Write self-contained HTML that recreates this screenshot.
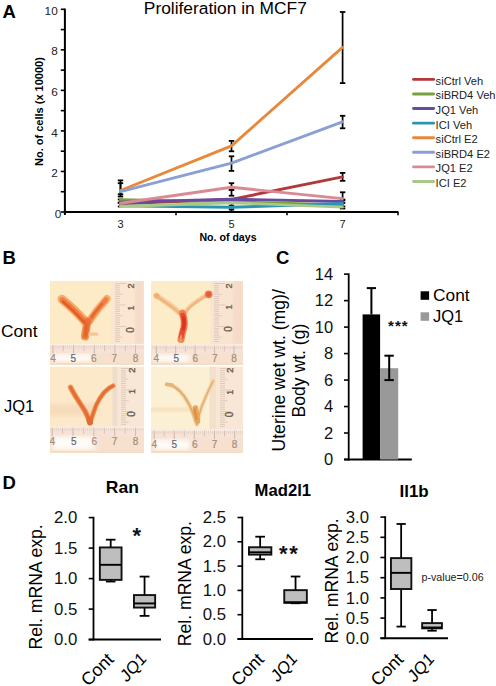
<!DOCTYPE html>
<html><head><meta charset="utf-8"><title>Figure</title>
<style>
html,body{margin:0;padding:0;background:#fff;}
body{width:496px;height:686px;overflow:hidden;}
svg{display:block;font-family:"Liberation Sans", sans-serif;}
</style></head><body>
<svg width="496" height="686" viewBox="0 0 496 686">
<rect width="496" height="686" fill="#fff"/>
<text x="2.6" y="17.8" font-size="18.5" font-weight="bold" text-anchor="start" fill="#000" >A</text>
<text transform="translate(143.8,13.8) scale(1.022,1)" font-size="17" font-weight="normal" text-anchor="start" fill="#000" >Proliferation in MCF7</text>
<line x1="64.9" y1="8.6" x2="64.9" y2="215" stroke="#000" stroke-width="2" stroke-linecap="butt"/>
<line x1="60.8" y1="212.0" x2="64.9" y2="212.0" stroke="#000" stroke-width="1.6" stroke-linecap="butt"/>
<line x1="60.8" y1="191.73" x2="64.9" y2="191.73" stroke="#000" stroke-width="1.6" stroke-linecap="butt"/>
<line x1="60.8" y1="171.46" x2="64.9" y2="171.46" stroke="#000" stroke-width="1.6" stroke-linecap="butt"/>
<line x1="60.8" y1="151.19" x2="64.9" y2="151.19" stroke="#000" stroke-width="1.6" stroke-linecap="butt"/>
<line x1="60.8" y1="130.92000000000002" x2="64.9" y2="130.92000000000002" stroke="#000" stroke-width="1.6" stroke-linecap="butt"/>
<line x1="60.8" y1="110.65" x2="64.9" y2="110.65" stroke="#000" stroke-width="1.6" stroke-linecap="butt"/>
<line x1="60.8" y1="90.38" x2="64.9" y2="90.38" stroke="#000" stroke-width="1.6" stroke-linecap="butt"/>
<line x1="60.8" y1="70.11000000000001" x2="64.9" y2="70.11000000000001" stroke="#000" stroke-width="1.6" stroke-linecap="butt"/>
<line x1="60.8" y1="49.84" x2="64.9" y2="49.84" stroke="#000" stroke-width="1.6" stroke-linecap="butt"/>
<line x1="60.8" y1="29.569999999999993" x2="64.9" y2="29.569999999999993" stroke="#000" stroke-width="1.6" stroke-linecap="butt"/>
<line x1="60.8" y1="9.300000000000011" x2="64.9" y2="9.300000000000011" stroke="#000" stroke-width="1.6" stroke-linecap="butt"/>
<text transform="translate(61.2,217.6) scale(1.07,1)" font-size="11" font-weight="normal" text-anchor="end" fill="#222" >0</text>
<text transform="translate(57.7,177.06) scale(1.07,1)" font-size="11" font-weight="normal" text-anchor="end" fill="#222" >2</text>
<text transform="translate(57.7,136.52) scale(1.07,1)" font-size="11" font-weight="normal" text-anchor="end" fill="#222" >4</text>
<text transform="translate(57.7,95.97999999999999) scale(1.07,1)" font-size="11" font-weight="normal" text-anchor="end" fill="#222" >6</text>
<text transform="translate(57.7,55.440000000000005) scale(1.07,1)" font-size="11" font-weight="normal" text-anchor="end" fill="#222" >8</text>
<text transform="translate(57.7,14.900000000000011) scale(1.07,1)" font-size="11" font-weight="normal" text-anchor="end" fill="#222" >10</text>
<line x1="63.9" y1="212" x2="398.4" y2="212" stroke="#000" stroke-width="2.2" stroke-linecap="butt"/>
<line x1="176" y1="212" x2="176" y2="215.2" stroke="#000" stroke-width="1.6" stroke-linecap="butt"/>
<line x1="287" y1="212" x2="287" y2="215.2" stroke="#000" stroke-width="1.6" stroke-linecap="butt"/>
<line x1="398" y1="212" x2="398" y2="215.2" stroke="#000" stroke-width="1.6" stroke-linecap="butt"/>
<text x="120.5" y="228.4" font-size="11" font-weight="normal" text-anchor="middle" fill="#222" >3</text>
<text x="231.5" y="228.4" font-size="11" font-weight="normal" text-anchor="middle" fill="#222" >5</text>
<text x="342.5" y="228.4" font-size="11" font-weight="normal" text-anchor="middle" fill="#222" >7</text>
<text x="228" y="240.8" font-size="10.6" font-weight="bold" text-anchor="middle" fill="#000" >No. of days</text>
<text transform="translate(42.9,166) rotate(-90)" x="0" y="0" font-size="11" font-weight="bold">No. of cells (x 10000)</text>
<line x1="342.6" y1="12" x2="342.6" y2="83.1" stroke="#000" stroke-width="1.7" stroke-linecap="butt"/>
<line x1="339.90000000000003" y1="12" x2="345.3" y2="12" stroke="#000" stroke-width="1.8" stroke-linecap="butt"/>
<line x1="339.90000000000003" y1="83.1" x2="345.3" y2="83.1" stroke="#000" stroke-width="1.8" stroke-linecap="butt"/>
<line x1="342.6" y1="115.8" x2="342.6" y2="128.3" stroke="#000" stroke-width="1.7" stroke-linecap="butt"/>
<line x1="339.90000000000003" y1="115.8" x2="345.3" y2="115.8" stroke="#000" stroke-width="1.8" stroke-linecap="butt"/>
<line x1="339.90000000000003" y1="128.3" x2="345.3" y2="128.3" stroke="#000" stroke-width="1.8" stroke-linecap="butt"/>
<line x1="342.6" y1="172.9" x2="342.6" y2="180.8" stroke="#000" stroke-width="1.7" stroke-linecap="butt"/>
<line x1="339.90000000000003" y1="172.9" x2="345.3" y2="172.9" stroke="#000" stroke-width="1.8" stroke-linecap="butt"/>
<line x1="339.90000000000003" y1="180.8" x2="345.3" y2="180.8" stroke="#000" stroke-width="1.8" stroke-linecap="butt"/>
<line x1="342.6" y1="192.3" x2="342.6" y2="199.5" stroke="#000" stroke-width="1.7" stroke-linecap="butt"/>
<line x1="339.90000000000003" y1="192.3" x2="345.3" y2="192.3" stroke="#000" stroke-width="1.8" stroke-linecap="butt"/>
<line x1="339.90000000000003" y1="199.5" x2="345.3" y2="199.5" stroke="#000" stroke-width="1.8" stroke-linecap="butt"/>
<line x1="342.6" y1="200.5" x2="342.6" y2="206.4" stroke="#000" stroke-width="1.7" stroke-linecap="butt"/>
<line x1="339.90000000000003" y1="200.5" x2="345.3" y2="200.5" stroke="#000" stroke-width="1.8" stroke-linecap="butt"/>
<line x1="339.90000000000003" y1="206.4" x2="345.3" y2="206.4" stroke="#000" stroke-width="1.8" stroke-linecap="butt"/>
<line x1="342.6" y1="203" x2="342.6" y2="208.5" stroke="#000" stroke-width="1.7" stroke-linecap="butt"/>
<line x1="339.90000000000003" y1="203" x2="345.3" y2="203" stroke="#000" stroke-width="1.8" stroke-linecap="butt"/>
<line x1="339.90000000000003" y1="208.5" x2="345.3" y2="208.5" stroke="#000" stroke-width="1.8" stroke-linecap="butt"/>
<line x1="231.5" y1="140.9" x2="231.5" y2="151.3" stroke="#000" stroke-width="1.7" stroke-linecap="butt"/>
<line x1="228.8" y1="140.9" x2="234.2" y2="140.9" stroke="#000" stroke-width="1.8" stroke-linecap="butt"/>
<line x1="228.8" y1="151.3" x2="234.2" y2="151.3" stroke="#000" stroke-width="1.8" stroke-linecap="butt"/>
<line x1="231.5" y1="156.3" x2="231.5" y2="170.9" stroke="#000" stroke-width="1.7" stroke-linecap="butt"/>
<line x1="228.8" y1="156.3" x2="234.2" y2="156.3" stroke="#000" stroke-width="1.8" stroke-linecap="butt"/>
<line x1="228.8" y1="170.9" x2="234.2" y2="170.9" stroke="#000" stroke-width="1.8" stroke-linecap="butt"/>
<line x1="231.5" y1="183.2" x2="231.5" y2="190" stroke="#000" stroke-width="1.7" stroke-linecap="butt"/>
<line x1="228.8" y1="183.2" x2="234.2" y2="183.2" stroke="#000" stroke-width="1.8" stroke-linecap="butt"/>
<line x1="228.8" y1="190" x2="234.2" y2="190" stroke="#000" stroke-width="1.8" stroke-linecap="butt"/>
<line x1="231.5" y1="189.5" x2="231.5" y2="195.7" stroke="#000" stroke-width="1.7" stroke-linecap="butt"/>
<line x1="228.8" y1="189.5" x2="234.2" y2="189.5" stroke="#000" stroke-width="1.8" stroke-linecap="butt"/>
<line x1="228.8" y1="195.7" x2="234.2" y2="195.7" stroke="#000" stroke-width="1.8" stroke-linecap="butt"/>
<line x1="231.5" y1="203.4" x2="231.5" y2="205.8" stroke="#000" stroke-width="1.7" stroke-linecap="butt"/>
<line x1="228.8" y1="203.4" x2="234.2" y2="203.4" stroke="#000" stroke-width="1.8" stroke-linecap="butt"/>
<line x1="228.8" y1="205.8" x2="234.2" y2="205.8" stroke="#000" stroke-width="1.8" stroke-linecap="butt"/>
<line x1="231.5" y1="209.3" x2="231.5" y2="211.5" stroke="#000" stroke-width="1.7" stroke-linecap="butt"/>
<line x1="228.8" y1="209.3" x2="234.2" y2="209.3" stroke="#000" stroke-width="1.8" stroke-linecap="butt"/>
<line x1="228.8" y1="211.5" x2="234.2" y2="211.5" stroke="#000" stroke-width="1.8" stroke-linecap="butt"/>
<line x1="120.5" y1="180.4" x2="120.5" y2="196.5" stroke="#000" stroke-width="1.7" stroke-linecap="butt"/>
<line x1="117.8" y1="180.4" x2="123.2" y2="180.4" stroke="#000" stroke-width="1.8" stroke-linecap="butt"/>
<line x1="117.8" y1="196.5" x2="123.2" y2="196.5" stroke="#000" stroke-width="1.8" stroke-linecap="butt"/>
<line x1="120.5" y1="183.2" x2="120.5" y2="194.3" stroke="#000" stroke-width="1.7" stroke-linecap="butt"/>
<line x1="117.8" y1="183.2" x2="123.2" y2="183.2" stroke="#000" stroke-width="1.8" stroke-linecap="butt"/>
<line x1="117.8" y1="194.3" x2="123.2" y2="194.3" stroke="#000" stroke-width="1.8" stroke-linecap="butt"/>
<line x1="120.5" y1="199.5" x2="120.5" y2="202.5" stroke="#000" stroke-width="1.7" stroke-linecap="butt"/>
<line x1="117.8" y1="199.5" x2="123.2" y2="199.5" stroke="#000" stroke-width="1.8" stroke-linecap="butt"/>
<line x1="117.8" y1="202.5" x2="123.2" y2="202.5" stroke="#000" stroke-width="1.8" stroke-linecap="butt"/>
<line x1="120.5" y1="203" x2="120.5" y2="206.5" stroke="#000" stroke-width="1.7" stroke-linecap="butt"/>
<line x1="117.8" y1="203" x2="123.2" y2="203" stroke="#000" stroke-width="1.8" stroke-linecap="butt"/>
<line x1="117.8" y1="206.5" x2="123.2" y2="206.5" stroke="#000" stroke-width="1.8" stroke-linecap="butt"/>
<polyline points="120.5,203.7 231.5,199.4 342.5,176.9" fill="none" stroke="#B3383A" stroke-width="2.9" stroke-linejoin="round" stroke-linecap="round"/>
<polyline points="120.5,199.8 231.5,201.9 342.5,204.9" fill="none" stroke="#7AA23C" stroke-width="2.9" stroke-linejoin="round" stroke-linecap="round"/>
<polyline points="120.5,202.1 231.5,199.2 342.5,201.5" fill="none" stroke="#6A4A9E" stroke-width="2.9" stroke-linejoin="round" stroke-linecap="round"/>
<polyline points="120.5,205.9 231.5,207.3 342.5,203.5" fill="none" stroke="#2B93B3" stroke-width="2.9" stroke-linejoin="round" stroke-linecap="round"/>
<polyline points="120.5,190.5 231.5,145.9 342.5,47.4" fill="none" stroke="#E8883A" stroke-width="2.9" stroke-linejoin="round" stroke-linecap="round"/>
<polyline points="120.5,191.7 231.5,163.1 342.5,121.8" fill="none" stroke="#8AA0D4" stroke-width="2.9" stroke-linejoin="round" stroke-linecap="round"/>
<polyline points="120.5,203.3 231.5,187.3 342.5,198.6" fill="none" stroke="#D98A92" stroke-width="2.9" stroke-linejoin="round" stroke-linecap="round"/>
<polyline points="120.5,206.5 231.5,202.7 342.5,207.1" fill="none" stroke="#A9C98A" stroke-width="2.9" stroke-linejoin="round" stroke-linecap="round"/>
<line x1="413.5" y1="79.4" x2="433.6" y2="79.4" stroke="#B3383A" stroke-width="2.9" stroke-linecap="round"/>
<text transform="translate(435.6,84.80000000000001) scale(1.05,1)" font-size="10.6" font-weight="normal" text-anchor="start" fill="#222" >siCtrl Veh</text>
<line x1="413.5" y1="93.98" x2="433.6" y2="93.98" stroke="#7AA23C" stroke-width="2.9" stroke-linecap="round"/>
<text transform="translate(435.6,99.38000000000001) scale(1.05,1)" font-size="10.6" font-weight="normal" text-anchor="start" fill="#222" >siBRD4 Veh</text>
<line x1="413.5" y1="108.56" x2="433.6" y2="108.56" stroke="#6A4A9E" stroke-width="2.9" stroke-linecap="round"/>
<text transform="translate(435.6,113.96000000000001) scale(1.05,1)" font-size="10.6" font-weight="normal" text-anchor="start" fill="#222" >JQ1 Veh</text>
<line x1="413.5" y1="123.14000000000001" x2="433.6" y2="123.14000000000001" stroke="#2B93B3" stroke-width="2.9" stroke-linecap="round"/>
<text transform="translate(435.6,128.54000000000002) scale(1.05,1)" font-size="10.6" font-weight="normal" text-anchor="start" fill="#222" >ICI Veh</text>
<line x1="413.5" y1="137.72" x2="433.6" y2="137.72" stroke="#E8883A" stroke-width="2.9" stroke-linecap="round"/>
<text transform="translate(435.6,143.12) scale(1.05,1)" font-size="10.6" font-weight="normal" text-anchor="start" fill="#222" >siCtrl E2</text>
<line x1="413.5" y1="152.3" x2="433.6" y2="152.3" stroke="#8AA0D4" stroke-width="2.9" stroke-linecap="round"/>
<text transform="translate(435.6,157.70000000000002) scale(1.05,1)" font-size="10.6" font-weight="normal" text-anchor="start" fill="#222" >siBRD4 E2</text>
<line x1="413.5" y1="166.88" x2="433.6" y2="166.88" stroke="#D98A92" stroke-width="2.9" stroke-linecap="round"/>
<text transform="translate(435.6,172.28) scale(1.05,1)" font-size="10.6" font-weight="normal" text-anchor="start" fill="#222" >JQ1 E2</text>
<line x1="413.5" y1="181.46" x2="433.6" y2="181.46" stroke="#A9C98A" stroke-width="2.9" stroke-linecap="round"/>
<text transform="translate(435.6,186.86) scale(1.05,1)" font-size="10.6" font-weight="normal" text-anchor="start" fill="#222" >ICI E2</text>
<text x="2.6" y="263.5" font-size="18.5" font-weight="bold" text-anchor="start" fill="#000" >B</text>
<text x="0.9" y="337.4" font-size="17.4" font-weight="normal" text-anchor="start" fill="#000" >Cont</text>
<text transform="translate(4.0,411.6) scale(0.95,1)" font-size="17.4" font-weight="normal" text-anchor="start" fill="#000" >JQ1</text>
<defs><filter id="bl" x="-30%" y="-30%" width="160%" height="160%"><feGaussianBlur stdDeviation="0.75"/></filter><filter id="bl1" x="-30%" y="-30%" width="160%" height="160%"><feGaussianBlur stdDeviation="0.45"/></filter><filter id="bl2" x="-20%" y="-20%" width="140%" height="140%"><feGaussianBlur stdDeviation="1.2"/></filter><filter id="bl3" x="-10%" y="-10%" width="120%" height="120%"><feGaussianBlur stdDeviation="2.5"/></filter><clipPath id="c1"><rect x="50" y="281" width="94" height="84"/></clipPath><clipPath id="c2"><rect x="151" y="281" width="92" height="84"/></clipPath><clipPath id="c3"><rect x="50" y="366.5" width="94" height="86.5"/></clipPath><clipPath id="c4"><rect x="151" y="366.5" width="92" height="86.5"/></clipPath></defs>
<g clip-path="url(#c1)">
<rect x="50" y="281" width="94" height="84" fill="#FDEAC6"/>
<rect x="111.5" y="281" width="32.5" height="63" fill="#FAE6D2"/>
<line x1="115.0" y1="283.5" x2="126.0" y2="283.5" stroke="#D2BEB0" stroke-width="0.7"/>
<line x1="115.0" y1="285.6" x2="120.0" y2="285.6" stroke="#D2BEB0" stroke-width="0.7"/>
<line x1="115.0" y1="287.8" x2="120.0" y2="287.8" stroke="#D2BEB0" stroke-width="0.7"/>
<line x1="115.0" y1="289.9" x2="120.0" y2="289.9" stroke="#D2BEB0" stroke-width="0.7"/>
<line x1="115.0" y1="292.1" x2="120.0" y2="292.1" stroke="#D2BEB0" stroke-width="0.7"/>
<line x1="115.0" y1="294.2" x2="122.5" y2="294.2" stroke="#D2BEB0" stroke-width="0.7"/>
<line x1="115.0" y1="296.4" x2="120.0" y2="296.4" stroke="#D2BEB0" stroke-width="0.7"/>
<line x1="115.0" y1="298.5" x2="120.0" y2="298.5" stroke="#D2BEB0" stroke-width="0.7"/>
<line x1="115.0" y1="300.7" x2="120.0" y2="300.7" stroke="#D2BEB0" stroke-width="0.7"/>
<line x1="115.0" y1="302.8" x2="120.0" y2="302.8" stroke="#D2BEB0" stroke-width="0.7"/>
<line x1="115.0" y1="305.0" x2="126.0" y2="305.0" stroke="#D2BEB0" stroke-width="0.7"/>
<line x1="115.0" y1="307.1" x2="120.0" y2="307.1" stroke="#D2BEB0" stroke-width="0.7"/>
<line x1="115.0" y1="309.3" x2="120.0" y2="309.3" stroke="#D2BEB0" stroke-width="0.7"/>
<line x1="115.0" y1="311.4" x2="120.0" y2="311.4" stroke="#D2BEB0" stroke-width="0.7"/>
<line x1="115.0" y1="313.6" x2="120.0" y2="313.6" stroke="#D2BEB0" stroke-width="0.7"/>
<line x1="115.0" y1="315.7" x2="122.5" y2="315.7" stroke="#D2BEB0" stroke-width="0.7"/>
<line x1="115.0" y1="317.9" x2="120.0" y2="317.9" stroke="#D2BEB0" stroke-width="0.7"/>
<line x1="115.0" y1="320.0" x2="120.0" y2="320.0" stroke="#D2BEB0" stroke-width="0.7"/>
<line x1="115.0" y1="322.2" x2="120.0" y2="322.2" stroke="#D2BEB0" stroke-width="0.7"/>
<line x1="115.0" y1="324.3" x2="120.0" y2="324.3" stroke="#D2BEB0" stroke-width="0.7"/>
<line x1="115.0" y1="326.5" x2="126.0" y2="326.5" stroke="#D2BEB0" stroke-width="0.7"/>
<line x1="115.0" y1="328.6" x2="120.0" y2="328.6" stroke="#D2BEB0" stroke-width="0.7"/>
<line x1="115.0" y1="330.8" x2="120.0" y2="330.8" stroke="#D2BEB0" stroke-width="0.7"/>
<line x1="115.0" y1="332.9" x2="120.0" y2="332.9" stroke="#D2BEB0" stroke-width="0.7"/>
<line x1="115.0" y1="335.1" x2="120.0" y2="335.1" stroke="#D2BEB0" stroke-width="0.7"/>
<line x1="115.0" y1="337.2" x2="122.5" y2="337.2" stroke="#D2BEB0" stroke-width="0.7"/>
<line x1="115.0" y1="339.4" x2="120.0" y2="339.4" stroke="#D2BEB0" stroke-width="0.7"/>
<line x1="115.0" y1="341.5" x2="120.0" y2="341.5" stroke="#D2BEB0" stroke-width="0.7"/>
<text transform="translate(133.9,286) rotate(-90)" font-size="9" text-anchor="middle" fill="#6A5A4A" stroke="#6A5A4A" stroke-width="0.35">2</text>
<text transform="translate(133.9,307.9) rotate(-90)" font-size="9" text-anchor="middle" fill="#6A5A4A" stroke="#6A5A4A" stroke-width="0.35">1</text>
<text transform="translate(133.9,330) rotate(-90)" font-size="10" text-anchor="middle" fill="#6A5A4A" stroke="#6A5A4A" stroke-width="0.35">0</text>
<rect x="135" y="281" width="9" height="63" fill="#F6DCC8" filter="url(#bl2)"/>
<rect x="50" y="344" width="94" height="21" fill="#F7E0CE"/>
<rect x="50" y="344" width="94" height="9" fill="#F6E2D6"/>
<rect x="50" y="344" width="94" height="1.6" fill="#FBF1EA"/>
<rect x="53" y="354" width="39" height="8" fill="#FFFCF8" filter="url(#bl3)"/>
<rect x="50" y="362.8" width="94" height="2.2" fill="#F6DEC6"/>
<line x1="50.9" y1="345" x2="50.9" y2="348.5" stroke="#DDCABE" stroke-width="0.6"/>
<line x1="53.0" y1="345" x2="53.0" y2="353.5" stroke="#C4AC9C" stroke-width="0.8"/>
<line x1="55.1" y1="345" x2="55.1" y2="348.5" stroke="#DDCABE" stroke-width="0.6"/>
<line x1="57.1" y1="345" x2="57.1" y2="348.5" stroke="#DDCABE" stroke-width="0.6"/>
<line x1="59.2" y1="345" x2="59.2" y2="348.5" stroke="#DDCABE" stroke-width="0.6"/>
<line x1="61.3" y1="345" x2="61.3" y2="348.5" stroke="#DDCABE" stroke-width="0.6"/>
<line x1="63.3" y1="345" x2="63.3" y2="351" stroke="#CDB6A8" stroke-width="0.75"/>
<line x1="65.4" y1="345" x2="65.4" y2="348.5" stroke="#DDCABE" stroke-width="0.6"/>
<line x1="67.5" y1="345" x2="67.5" y2="348.5" stroke="#DDCABE" stroke-width="0.6"/>
<line x1="69.5" y1="345" x2="69.5" y2="348.5" stroke="#DDCABE" stroke-width="0.6"/>
<line x1="71.6" y1="345" x2="71.6" y2="348.5" stroke="#DDCABE" stroke-width="0.6"/>
<line x1="73.6" y1="345" x2="73.6" y2="353.5" stroke="#C4AC9C" stroke-width="0.8"/>
<line x1="75.7" y1="345" x2="75.7" y2="348.5" stroke="#DDCABE" stroke-width="0.6"/>
<line x1="77.8" y1="345" x2="77.8" y2="348.5" stroke="#DDCABE" stroke-width="0.6"/>
<line x1="79.8" y1="345" x2="79.8" y2="348.5" stroke="#DDCABE" stroke-width="0.6"/>
<line x1="81.9" y1="345" x2="81.9" y2="348.5" stroke="#DDCABE" stroke-width="0.6"/>
<line x1="84.0" y1="345" x2="84.0" y2="351" stroke="#CDB6A8" stroke-width="0.75"/>
<line x1="86.0" y1="345" x2="86.0" y2="348.5" stroke="#DDCABE" stroke-width="0.6"/>
<line x1="88.1" y1="345" x2="88.1" y2="348.5" stroke="#DDCABE" stroke-width="0.6"/>
<line x1="90.2" y1="345" x2="90.2" y2="348.5" stroke="#DDCABE" stroke-width="0.6"/>
<line x1="92.2" y1="345" x2="92.2" y2="348.5" stroke="#DDCABE" stroke-width="0.6"/>
<line x1="94.3" y1="345" x2="94.3" y2="353.5" stroke="#C4AC9C" stroke-width="0.8"/>
<line x1="96.4" y1="345" x2="96.4" y2="348.5" stroke="#DDCABE" stroke-width="0.6"/>
<line x1="98.4" y1="345" x2="98.4" y2="348.5" stroke="#DDCABE" stroke-width="0.6"/>
<line x1="100.5" y1="345" x2="100.5" y2="348.5" stroke="#DDCABE" stroke-width="0.6"/>
<line x1="102.6" y1="345" x2="102.6" y2="348.5" stroke="#DDCABE" stroke-width="0.6"/>
<line x1="104.6" y1="345" x2="104.6" y2="351" stroke="#CDB6A8" stroke-width="0.75"/>
<line x1="106.7" y1="345" x2="106.7" y2="348.5" stroke="#DDCABE" stroke-width="0.6"/>
<line x1="108.8" y1="345" x2="108.8" y2="348.5" stroke="#DDCABE" stroke-width="0.6"/>
<line x1="110.8" y1="345" x2="110.8" y2="348.5" stroke="#DDCABE" stroke-width="0.6"/>
<line x1="112.9" y1="345" x2="112.9" y2="348.5" stroke="#DDCABE" stroke-width="0.6"/>
<line x1="114.9" y1="345" x2="114.9" y2="353.5" stroke="#C4AC9C" stroke-width="0.8"/>
<line x1="117.0" y1="345" x2="117.0" y2="348.5" stroke="#DDCABE" stroke-width="0.6"/>
<line x1="119.1" y1="345" x2="119.1" y2="348.5" stroke="#DDCABE" stroke-width="0.6"/>
<line x1="121.1" y1="345" x2="121.1" y2="348.5" stroke="#DDCABE" stroke-width="0.6"/>
<line x1="123.2" y1="345" x2="123.2" y2="348.5" stroke="#DDCABE" stroke-width="0.6"/>
<line x1="125.3" y1="345" x2="125.3" y2="351" stroke="#CDB6A8" stroke-width="0.75"/>
<line x1="127.3" y1="345" x2="127.3" y2="348.5" stroke="#DDCABE" stroke-width="0.6"/>
<line x1="129.4" y1="345" x2="129.4" y2="348.5" stroke="#DDCABE" stroke-width="0.6"/>
<line x1="131.5" y1="345" x2="131.5" y2="348.5" stroke="#DDCABE" stroke-width="0.6"/>
<line x1="133.5" y1="345" x2="133.5" y2="348.5" stroke="#DDCABE" stroke-width="0.6"/>
<line x1="135.6" y1="345" x2="135.6" y2="353.5" stroke="#C4AC9C" stroke-width="0.8"/>
<line x1="137.7" y1="345" x2="137.7" y2="348.5" stroke="#DDCABE" stroke-width="0.6"/>
<line x1="139.7" y1="345" x2="139.7" y2="348.5" stroke="#DDCABE" stroke-width="0.6"/>
<line x1="141.8" y1="345" x2="141.8" y2="348.5" stroke="#DDCABE" stroke-width="0.6"/>
<line x1="143.9" y1="345" x2="143.9" y2="348.5" stroke="#DDCABE" stroke-width="0.6"/>
<text x="53" y="362.2" font-size="10" text-anchor="middle" fill="#A08C7E" stroke="#A08C7E" stroke-width="0.2">4</text>
<text x="73.2" y="362.2" font-size="10" text-anchor="middle" fill="#5E6680" stroke="#5E6680" stroke-width="0.2">5</text>
<text x="93.9" y="362.2" font-size="10" text-anchor="middle" fill="#A08C7E" stroke="#A08C7E" stroke-width="0.2">6</text>
<text x="114.3" y="362.2" font-size="10" text-anchor="middle" fill="#A08C7E" stroke="#A08C7E" stroke-width="0.2">7</text>
<text x="135.6" y="362.2" font-size="10" text-anchor="middle" fill="#A08C7E" stroke="#A08C7E" stroke-width="0.2">8</text>
<g filter="url(#bl)" stroke-linecap="round" stroke-linejoin="round" fill="none">
<path d="M62 299.2 C69 305 78 313 86.5 323" stroke="#F6AE6C" stroke-width="9"/>
<path d="M106.8 298.8 C101 305 95 312 88.8 322" stroke="#F6AE6C" stroke-width="7.6"/>
<path d="M87.5 321 C86.5 327 85.5 332 85 336.5" stroke="#F39A5A" stroke-width="8.2"/>
<path d="M88 334 L96.8 334.2" stroke="#F8C494" stroke-width="3.2"/>
<path d="M62.5 300 C69 305.5 77.5 313 86 323" stroke="#EE8046" stroke-width="5.6"/>
<path d="M106 299.5 C100.5 306 94.5 312.5 89 322" stroke="#EE7E44" stroke-width="4.6"/>
<path d="M87.5 321 C86.5 327 85.8 332 85.3 336" stroke="#EA6E34" stroke-width="5.6"/>
<path d="M63 301.6 C69 306.5 76.5 313.5 84.5 322.5" stroke="#E45E28" stroke-width="2.8"/>
<path d="M102 304 C98.5 308 95 312 91.5 317" stroke="#E86630" stroke-width="2.2"/>
<path d="M86.5 325 L85.6 334.5" stroke="#E4642A" stroke-width="2.4"/>
</g></g>
<g clip-path="url(#c2)">
<rect x="151" y="281" width="92" height="84" fill="#FDECC8"/>
<rect x="210.5" y="281" width="32.5" height="63.5" fill="#F9E4D2"/>
<line x1="214.0" y1="283.5" x2="225.0" y2="283.5" stroke="#D2BEB0" stroke-width="0.7"/>
<line x1="214.0" y1="285.6" x2="219.0" y2="285.6" stroke="#D2BEB0" stroke-width="0.7"/>
<line x1="214.0" y1="287.8" x2="219.0" y2="287.8" stroke="#D2BEB0" stroke-width="0.7"/>
<line x1="214.0" y1="289.9" x2="219.0" y2="289.9" stroke="#D2BEB0" stroke-width="0.7"/>
<line x1="214.0" y1="292.1" x2="219.0" y2="292.1" stroke="#D2BEB0" stroke-width="0.7"/>
<line x1="214.0" y1="294.2" x2="221.5" y2="294.2" stroke="#D2BEB0" stroke-width="0.7"/>
<line x1="214.0" y1="296.4" x2="219.0" y2="296.4" stroke="#D2BEB0" stroke-width="0.7"/>
<line x1="214.0" y1="298.5" x2="219.0" y2="298.5" stroke="#D2BEB0" stroke-width="0.7"/>
<line x1="214.0" y1="300.7" x2="219.0" y2="300.7" stroke="#D2BEB0" stroke-width="0.7"/>
<line x1="214.0" y1="302.8" x2="219.0" y2="302.8" stroke="#D2BEB0" stroke-width="0.7"/>
<line x1="214.0" y1="305.0" x2="225.0" y2="305.0" stroke="#D2BEB0" stroke-width="0.7"/>
<line x1="214.0" y1="307.1" x2="219.0" y2="307.1" stroke="#D2BEB0" stroke-width="0.7"/>
<line x1="214.0" y1="309.3" x2="219.0" y2="309.3" stroke="#D2BEB0" stroke-width="0.7"/>
<line x1="214.0" y1="311.4" x2="219.0" y2="311.4" stroke="#D2BEB0" stroke-width="0.7"/>
<line x1="214.0" y1="313.6" x2="219.0" y2="313.6" stroke="#D2BEB0" stroke-width="0.7"/>
<line x1="214.0" y1="315.7" x2="221.5" y2="315.7" stroke="#D2BEB0" stroke-width="0.7"/>
<line x1="214.0" y1="317.9" x2="219.0" y2="317.9" stroke="#D2BEB0" stroke-width="0.7"/>
<line x1="214.0" y1="320.0" x2="219.0" y2="320.0" stroke="#D2BEB0" stroke-width="0.7"/>
<line x1="214.0" y1="322.2" x2="219.0" y2="322.2" stroke="#D2BEB0" stroke-width="0.7"/>
<line x1="214.0" y1="324.3" x2="219.0" y2="324.3" stroke="#D2BEB0" stroke-width="0.7"/>
<line x1="214.0" y1="326.5" x2="225.0" y2="326.5" stroke="#D2BEB0" stroke-width="0.7"/>
<line x1="214.0" y1="328.6" x2="219.0" y2="328.6" stroke="#D2BEB0" stroke-width="0.7"/>
<line x1="214.0" y1="330.8" x2="219.0" y2="330.8" stroke="#D2BEB0" stroke-width="0.7"/>
<line x1="214.0" y1="332.9" x2="219.0" y2="332.9" stroke="#D2BEB0" stroke-width="0.7"/>
<line x1="214.0" y1="335.1" x2="219.0" y2="335.1" stroke="#D2BEB0" stroke-width="0.7"/>
<line x1="214.0" y1="337.2" x2="221.5" y2="337.2" stroke="#D2BEB0" stroke-width="0.7"/>
<line x1="214.0" y1="339.4" x2="219.0" y2="339.4" stroke="#D2BEB0" stroke-width="0.7"/>
<line x1="214.0" y1="341.5" x2="219.0" y2="341.5" stroke="#D2BEB0" stroke-width="0.7"/>
<text transform="translate(232.1,286) rotate(-90)" font-size="9" text-anchor="middle" fill="#6A5A4A" stroke="#6A5A4A" stroke-width="0.35">2</text>
<text transform="translate(232.1,307) rotate(-90)" font-size="9" text-anchor="middle" fill="#6A5A4A" stroke="#6A5A4A" stroke-width="0.35">1</text>
<text transform="translate(232.1,328.9) rotate(-90)" font-size="10" text-anchor="middle" fill="#6A5A4A" stroke="#6A5A4A" stroke-width="0.35">0</text>
<rect x="233" y="281" width="10" height="63" fill="#F6DCC8" filter="url(#bl2)"/>
<rect x="151" y="344.5" width="92" height="20.5" fill="#F7E0CE"/>
<rect x="151" y="344.5" width="92" height="9" fill="#F6E2D6"/>
<rect x="151" y="344.5" width="92" height="1.6" fill="#FBF1EA"/>
<rect x="154" y="354.5" width="36" height="7.5" fill="#FFFCF8" filter="url(#bl3)"/>
<rect x="151" y="362.8" width="92" height="2.2" fill="#F6DEC6"/>
<line x1="152.4" y1="345.5" x2="152.4" y2="349.0" stroke="#DDCABE" stroke-width="0.6"/>
<line x1="154.4" y1="345.5" x2="154.4" y2="349.0" stroke="#DDCABE" stroke-width="0.6"/>
<line x1="156.3" y1="345.5" x2="156.3" y2="354.0" stroke="#C4AC9C" stroke-width="0.8"/>
<line x1="158.2" y1="345.5" x2="158.2" y2="349.0" stroke="#DDCABE" stroke-width="0.6"/>
<line x1="160.2" y1="345.5" x2="160.2" y2="349.0" stroke="#DDCABE" stroke-width="0.6"/>
<line x1="162.1" y1="345.5" x2="162.1" y2="349.0" stroke="#DDCABE" stroke-width="0.6"/>
<line x1="164.1" y1="345.5" x2="164.1" y2="349.0" stroke="#DDCABE" stroke-width="0.6"/>
<line x1="166.0" y1="345.5" x2="166.0" y2="351.5" stroke="#CDB6A8" stroke-width="0.75"/>
<line x1="168.0" y1="345.5" x2="168.0" y2="349.0" stroke="#DDCABE" stroke-width="0.6"/>
<line x1="169.9" y1="345.5" x2="169.9" y2="349.0" stroke="#DDCABE" stroke-width="0.6"/>
<line x1="171.8" y1="345.5" x2="171.8" y2="349.0" stroke="#DDCABE" stroke-width="0.6"/>
<line x1="173.8" y1="345.5" x2="173.8" y2="349.0" stroke="#DDCABE" stroke-width="0.6"/>
<line x1="175.7" y1="345.5" x2="175.7" y2="354.0" stroke="#C4AC9C" stroke-width="0.8"/>
<line x1="177.7" y1="345.5" x2="177.7" y2="349.0" stroke="#DDCABE" stroke-width="0.6"/>
<line x1="179.6" y1="345.5" x2="179.6" y2="349.0" stroke="#DDCABE" stroke-width="0.6"/>
<line x1="181.6" y1="345.5" x2="181.6" y2="349.0" stroke="#DDCABE" stroke-width="0.6"/>
<line x1="183.5" y1="345.5" x2="183.5" y2="349.0" stroke="#DDCABE" stroke-width="0.6"/>
<line x1="185.4" y1="345.5" x2="185.4" y2="351.5" stroke="#CDB6A8" stroke-width="0.75"/>
<line x1="187.4" y1="345.5" x2="187.4" y2="349.0" stroke="#DDCABE" stroke-width="0.6"/>
<line x1="189.3" y1="345.5" x2="189.3" y2="349.0" stroke="#DDCABE" stroke-width="0.6"/>
<line x1="191.3" y1="345.5" x2="191.3" y2="349.0" stroke="#DDCABE" stroke-width="0.6"/>
<line x1="193.2" y1="345.5" x2="193.2" y2="349.0" stroke="#DDCABE" stroke-width="0.6"/>
<line x1="195.1" y1="345.5" x2="195.1" y2="354.0" stroke="#C4AC9C" stroke-width="0.8"/>
<line x1="197.1" y1="345.5" x2="197.1" y2="349.0" stroke="#DDCABE" stroke-width="0.6"/>
<line x1="199.0" y1="345.5" x2="199.0" y2="349.0" stroke="#DDCABE" stroke-width="0.6"/>
<line x1="201.0" y1="345.5" x2="201.0" y2="349.0" stroke="#DDCABE" stroke-width="0.6"/>
<line x1="202.9" y1="345.5" x2="202.9" y2="349.0" stroke="#DDCABE" stroke-width="0.6"/>
<line x1="204.9" y1="345.5" x2="204.9" y2="351.5" stroke="#CDB6A8" stroke-width="0.75"/>
<line x1="206.8" y1="345.5" x2="206.8" y2="349.0" stroke="#DDCABE" stroke-width="0.6"/>
<line x1="208.7" y1="345.5" x2="208.7" y2="349.0" stroke="#DDCABE" stroke-width="0.6"/>
<line x1="210.7" y1="345.5" x2="210.7" y2="349.0" stroke="#DDCABE" stroke-width="0.6"/>
<line x1="212.6" y1="345.5" x2="212.6" y2="349.0" stroke="#DDCABE" stroke-width="0.6"/>
<line x1="214.6" y1="345.5" x2="214.6" y2="354.0" stroke="#C4AC9C" stroke-width="0.8"/>
<line x1="216.5" y1="345.5" x2="216.5" y2="349.0" stroke="#DDCABE" stroke-width="0.6"/>
<line x1="218.5" y1="345.5" x2="218.5" y2="349.0" stroke="#DDCABE" stroke-width="0.6"/>
<line x1="220.4" y1="345.5" x2="220.4" y2="349.0" stroke="#DDCABE" stroke-width="0.6"/>
<line x1="222.3" y1="345.5" x2="222.3" y2="349.0" stroke="#DDCABE" stroke-width="0.6"/>
<line x1="224.3" y1="345.5" x2="224.3" y2="351.5" stroke="#CDB6A8" stroke-width="0.75"/>
<line x1="226.2" y1="345.5" x2="226.2" y2="349.0" stroke="#DDCABE" stroke-width="0.6"/>
<line x1="228.2" y1="345.5" x2="228.2" y2="349.0" stroke="#DDCABE" stroke-width="0.6"/>
<line x1="230.1" y1="345.5" x2="230.1" y2="349.0" stroke="#DDCABE" stroke-width="0.6"/>
<line x1="232.1" y1="345.5" x2="232.1" y2="349.0" stroke="#DDCABE" stroke-width="0.6"/>
<line x1="234.0" y1="345.5" x2="234.0" y2="354.0" stroke="#C4AC9C" stroke-width="0.8"/>
<line x1="235.9" y1="345.5" x2="235.9" y2="349.0" stroke="#DDCABE" stroke-width="0.6"/>
<line x1="237.9" y1="345.5" x2="237.9" y2="349.0" stroke="#DDCABE" stroke-width="0.6"/>
<line x1="239.8" y1="345.5" x2="239.8" y2="349.0" stroke="#DDCABE" stroke-width="0.6"/>
<line x1="241.8" y1="345.5" x2="241.8" y2="349.0" stroke="#DDCABE" stroke-width="0.6"/>
<text x="156.3" y="361.8" font-size="10" text-anchor="middle" fill="#A08C7E" stroke="#A08C7E" stroke-width="0.2">4</text>
<text x="176.2" y="361.8" font-size="10" text-anchor="middle" fill="#5E6680" stroke="#5E6680" stroke-width="0.2">5</text>
<text x="195.4" y="361.8" font-size="10" text-anchor="middle" fill="#A08C7E" stroke="#A08C7E" stroke-width="0.2">6</text>
<text x="214.8" y="361.8" font-size="10" text-anchor="middle" fill="#A08C7E" stroke="#A08C7E" stroke-width="0.2">7</text>
<text x="234" y="361.8" font-size="10" text-anchor="middle" fill="#A08C7E" stroke="#A08C7E" stroke-width="0.2">8</text>
<g filter="url(#bl)" stroke-linecap="round" stroke-linejoin="round" fill="none">
<path d="M156 295.5 C160 298 164 301 170 305 C174 308 177.5 310.5 180.5 314" stroke="#F6CC9A" stroke-width="5.5"/>
<path d="M156.3 295.8 C160 298.3 164 301.5 170 305.5 C174 308.5 177.5 311 180.5 314.5" stroke="#F2B478" stroke-width="2.6"/>
<circle cx="156.8" cy="296" r="2.8" fill="#F2B070" stroke="none"/>
<path d="M206 295.5 C200 299 194 303 190 306.5 C187.5 309 186 311 185 313.5" stroke="#F6D0A2" stroke-width="4.5"/>
<path d="M205.5 296 C200 299.5 194 303.5 190 307 C187.5 309.5 186 311.5 185 314" stroke="#F0B47C" stroke-width="2.2"/>
<path d="M182.5 313 C184 318 185 323 183.8 328 C182.5 332 181.5 336 181 339.5" stroke="#F08050" stroke-width="7"/>
<path d="M182.8 315 C184 319 184.8 323.5 183.5 328 C182.3 331.5 181.6 334.5 181.3 337" stroke="#E84830" stroke-width="4.8"/>
<path d="M181 336 L180.5 342" stroke="#EE9868" stroke-width="2"/>
<circle cx="208.6" cy="294.3" r="3.9" fill="#F07E50" stroke="none"/>
<circle cx="208.8" cy="294.2" r="2.5" fill="#EA5A38" stroke="none"/>
<path d="M183.8 318 C184.5 321 184.2 325 183.2 328.5" stroke="#DE3022" stroke-width="3.2"/>
</g></g>
<g clip-path="url(#c3)">
<rect x="50" y="366.5" width="94" height="86.5" fill="#FCE9CA"/>
<rect x="48" y="404" width="50" height="12" fill="#F6DCBA" filter="url(#bl3)"/>
<rect x="112.5" y="366.5" width="5" height="60" fill="#EEDCCC"/>
<rect x="117.5" y="366.5" width="26.5" height="60.0" fill="#F8E6D6"/>
<line x1="121.0" y1="368.5" x2="132.0" y2="368.5" stroke="#D2BEB0" stroke-width="0.7"/>
<line x1="121.0" y1="370.6" x2="126.0" y2="370.6" stroke="#D2BEB0" stroke-width="0.7"/>
<line x1="121.0" y1="372.8" x2="126.0" y2="372.8" stroke="#D2BEB0" stroke-width="0.7"/>
<line x1="121.0" y1="374.9" x2="126.0" y2="374.9" stroke="#D2BEB0" stroke-width="0.7"/>
<line x1="121.0" y1="377.1" x2="126.0" y2="377.1" stroke="#D2BEB0" stroke-width="0.7"/>
<line x1="121.0" y1="379.2" x2="128.5" y2="379.2" stroke="#D2BEB0" stroke-width="0.7"/>
<line x1="121.0" y1="381.4" x2="126.0" y2="381.4" stroke="#D2BEB0" stroke-width="0.7"/>
<line x1="121.0" y1="383.5" x2="126.0" y2="383.5" stroke="#D2BEB0" stroke-width="0.7"/>
<line x1="121.0" y1="385.7" x2="126.0" y2="385.7" stroke="#D2BEB0" stroke-width="0.7"/>
<line x1="121.0" y1="387.8" x2="126.0" y2="387.8" stroke="#D2BEB0" stroke-width="0.7"/>
<line x1="121.0" y1="390.0" x2="132.0" y2="390.0" stroke="#D2BEB0" stroke-width="0.7"/>
<line x1="121.0" y1="392.1" x2="126.0" y2="392.1" stroke="#D2BEB0" stroke-width="0.7"/>
<line x1="121.0" y1="394.3" x2="126.0" y2="394.3" stroke="#D2BEB0" stroke-width="0.7"/>
<line x1="121.0" y1="396.4" x2="126.0" y2="396.4" stroke="#D2BEB0" stroke-width="0.7"/>
<line x1="121.0" y1="398.6" x2="126.0" y2="398.6" stroke="#D2BEB0" stroke-width="0.7"/>
<line x1="121.0" y1="400.7" x2="128.5" y2="400.7" stroke="#D2BEB0" stroke-width="0.7"/>
<line x1="121.0" y1="402.9" x2="126.0" y2="402.9" stroke="#D2BEB0" stroke-width="0.7"/>
<line x1="121.0" y1="405.0" x2="126.0" y2="405.0" stroke="#D2BEB0" stroke-width="0.7"/>
<line x1="121.0" y1="407.2" x2="126.0" y2="407.2" stroke="#D2BEB0" stroke-width="0.7"/>
<line x1="121.0" y1="409.3" x2="126.0" y2="409.3" stroke="#D2BEB0" stroke-width="0.7"/>
<line x1="121.0" y1="411.5" x2="132.0" y2="411.5" stroke="#D2BEB0" stroke-width="0.7"/>
<line x1="121.0" y1="413.6" x2="126.0" y2="413.6" stroke="#D2BEB0" stroke-width="0.7"/>
<line x1="121.0" y1="415.8" x2="126.0" y2="415.8" stroke="#D2BEB0" stroke-width="0.7"/>
<line x1="121.0" y1="417.9" x2="126.0" y2="417.9" stroke="#D2BEB0" stroke-width="0.7"/>
<line x1="121.0" y1="420.1" x2="126.0" y2="420.1" stroke="#D2BEB0" stroke-width="0.7"/>
<line x1="121.0" y1="422.2" x2="128.5" y2="422.2" stroke="#D2BEB0" stroke-width="0.7"/>
<line x1="121.0" y1="424.4" x2="126.0" y2="424.4" stroke="#D2BEB0" stroke-width="0.7"/>
<text transform="translate(134.9,370.2) rotate(-90)" font-size="9" text-anchor="middle" fill="#6A5A4A" stroke="#6A5A4A" stroke-width="0.35">2</text>
<text transform="translate(134.9,391.6) rotate(-90)" font-size="9" text-anchor="middle" fill="#6A5A4A" stroke="#6A5A4A" stroke-width="0.35">1</text>
<text transform="translate(134.9,414) rotate(-90)" font-size="10" text-anchor="middle" fill="#6A5A4A" stroke="#6A5A4A" stroke-width="0.35">0</text>
<rect x="50" y="426.5" width="94" height="26.5" fill="#F7E0CE"/>
<rect x="50" y="426.5" width="94" height="9" fill="#F6E2D6"/>
<rect x="50" y="426.5" width="94" height="1.6" fill="#FBF1EA"/>
<rect x="53" y="436.5" width="42" height="13.5" fill="#FFFCF8" filter="url(#bl3)"/>
<rect x="50" y="450.8" width="94" height="2.2" fill="#F6DEC6"/>
<line x1="50.1" y1="427.5" x2="50.1" y2="431.0" stroke="#DDCABE" stroke-width="0.6"/>
<line x1="52.2" y1="427.5" x2="52.2" y2="436.0" stroke="#C4AC9C" stroke-width="0.8"/>
<line x1="54.3" y1="427.5" x2="54.3" y2="431.0" stroke="#DDCABE" stroke-width="0.6"/>
<line x1="56.4" y1="427.5" x2="56.4" y2="431.0" stroke="#DDCABE" stroke-width="0.6"/>
<line x1="58.5" y1="427.5" x2="58.5" y2="431.0" stroke="#DDCABE" stroke-width="0.6"/>
<line x1="60.5" y1="427.5" x2="60.5" y2="431.0" stroke="#DDCABE" stroke-width="0.6"/>
<line x1="62.6" y1="427.5" x2="62.6" y2="433.5" stroke="#CDB6A8" stroke-width="0.75"/>
<line x1="64.7" y1="427.5" x2="64.7" y2="431.0" stroke="#DDCABE" stroke-width="0.6"/>
<line x1="66.8" y1="427.5" x2="66.8" y2="431.0" stroke="#DDCABE" stroke-width="0.6"/>
<line x1="68.9" y1="427.5" x2="68.9" y2="431.0" stroke="#DDCABE" stroke-width="0.6"/>
<line x1="71.0" y1="427.5" x2="71.0" y2="431.0" stroke="#DDCABE" stroke-width="0.6"/>
<line x1="73.0" y1="427.5" x2="73.0" y2="436.0" stroke="#C4AC9C" stroke-width="0.8"/>
<line x1="75.1" y1="427.5" x2="75.1" y2="431.0" stroke="#DDCABE" stroke-width="0.6"/>
<line x1="77.2" y1="427.5" x2="77.2" y2="431.0" stroke="#DDCABE" stroke-width="0.6"/>
<line x1="79.3" y1="427.5" x2="79.3" y2="431.0" stroke="#DDCABE" stroke-width="0.6"/>
<line x1="81.4" y1="427.5" x2="81.4" y2="431.0" stroke="#DDCABE" stroke-width="0.6"/>
<line x1="83.5" y1="427.5" x2="83.5" y2="433.5" stroke="#CDB6A8" stroke-width="0.75"/>
<line x1="85.6" y1="427.5" x2="85.6" y2="431.0" stroke="#DDCABE" stroke-width="0.6"/>
<line x1="87.6" y1="427.5" x2="87.6" y2="431.0" stroke="#DDCABE" stroke-width="0.6"/>
<line x1="89.7" y1="427.5" x2="89.7" y2="431.0" stroke="#DDCABE" stroke-width="0.6"/>
<line x1="91.8" y1="427.5" x2="91.8" y2="431.0" stroke="#DDCABE" stroke-width="0.6"/>
<line x1="93.9" y1="427.5" x2="93.9" y2="436.0" stroke="#C4AC9C" stroke-width="0.8"/>
<line x1="96.0" y1="427.5" x2="96.0" y2="431.0" stroke="#DDCABE" stroke-width="0.6"/>
<line x1="98.1" y1="427.5" x2="98.1" y2="431.0" stroke="#DDCABE" stroke-width="0.6"/>
<line x1="100.2" y1="427.5" x2="100.2" y2="431.0" stroke="#DDCABE" stroke-width="0.6"/>
<line x1="102.2" y1="427.5" x2="102.2" y2="431.0" stroke="#DDCABE" stroke-width="0.6"/>
<line x1="104.3" y1="427.5" x2="104.3" y2="433.5" stroke="#CDB6A8" stroke-width="0.75"/>
<line x1="106.4" y1="427.5" x2="106.4" y2="431.0" stroke="#DDCABE" stroke-width="0.6"/>
<line x1="108.5" y1="427.5" x2="108.5" y2="431.0" stroke="#DDCABE" stroke-width="0.6"/>
<line x1="110.6" y1="427.5" x2="110.6" y2="431.0" stroke="#DDCABE" stroke-width="0.6"/>
<line x1="112.7" y1="427.5" x2="112.7" y2="431.0" stroke="#DDCABE" stroke-width="0.6"/>
<line x1="114.7" y1="427.5" x2="114.7" y2="436.0" stroke="#C4AC9C" stroke-width="0.8"/>
<line x1="116.8" y1="427.5" x2="116.8" y2="431.0" stroke="#DDCABE" stroke-width="0.6"/>
<line x1="118.9" y1="427.5" x2="118.9" y2="431.0" stroke="#DDCABE" stroke-width="0.6"/>
<line x1="121.0" y1="427.5" x2="121.0" y2="431.0" stroke="#DDCABE" stroke-width="0.6"/>
<line x1="123.1" y1="427.5" x2="123.1" y2="431.0" stroke="#DDCABE" stroke-width="0.6"/>
<line x1="125.2" y1="427.5" x2="125.2" y2="433.5" stroke="#CDB6A8" stroke-width="0.75"/>
<line x1="127.3" y1="427.5" x2="127.3" y2="431.0" stroke="#DDCABE" stroke-width="0.6"/>
<line x1="129.3" y1="427.5" x2="129.3" y2="431.0" stroke="#DDCABE" stroke-width="0.6"/>
<line x1="131.4" y1="427.5" x2="131.4" y2="431.0" stroke="#DDCABE" stroke-width="0.6"/>
<line x1="133.5" y1="427.5" x2="133.5" y2="431.0" stroke="#DDCABE" stroke-width="0.6"/>
<line x1="135.6" y1="427.5" x2="135.6" y2="436.0" stroke="#C4AC9C" stroke-width="0.8"/>
<line x1="137.7" y1="427.5" x2="137.7" y2="431.0" stroke="#DDCABE" stroke-width="0.6"/>
<line x1="139.8" y1="427.5" x2="139.8" y2="431.0" stroke="#DDCABE" stroke-width="0.6"/>
<line x1="141.9" y1="427.5" x2="141.9" y2="431.0" stroke="#DDCABE" stroke-width="0.6"/>
<line x1="143.9" y1="427.5" x2="143.9" y2="431.0" stroke="#DDCABE" stroke-width="0.6"/>
<text x="52.2" y="445.2" font-size="10" text-anchor="middle" fill="#A08C7E" stroke="#A08C7E" stroke-width="0.2">4</text>
<text x="73.8" y="445.2" font-size="10" text-anchor="middle" fill="#5E6680" stroke="#5E6680" stroke-width="0.2">5</text>
<text x="94.4" y="445.2" font-size="10" text-anchor="middle" fill="#A08C7E" stroke="#A08C7E" stroke-width="0.2">6</text>
<text x="114.5" y="445.2" font-size="10" text-anchor="middle" fill="#A08C7E" stroke="#A08C7E" stroke-width="0.2">7</text>
<text x="135.6" y="445.2" font-size="10" text-anchor="middle" fill="#A08C7E" stroke="#A08C7E" stroke-width="0.2">8</text>
<g filter="url(#bl)" stroke-linecap="round" stroke-linejoin="round" fill="none">
<path d="M70.5 387.2 C74 395 80 403 85 411 C87 415 88.5 418.5 89.5 421.5" stroke="#F09458" stroke-width="5.4"/>
<path d="M113.2 385.8 C105 389 100 397 96 405.5 C93.5 412 92 417 90.8 421" stroke="#F09458" stroke-width="4.8"/>
<path d="M70.5 387.2 C74 395 80 403 85 411 C87 415 88.5 418.5 89.5 421.5" stroke="#E66C34" stroke-width="3.0"/>
<path d="M113.2 385.8 C105 389 100 397 96 405.5 C93.5 412 92 417 90.8 421" stroke="#E66C34" stroke-width="2.6"/>
<path d="M89.5 419.5 L90 422.5" stroke="#E46A32" stroke-width="6"/>
</g></g>
<g clip-path="url(#c4)">
<rect x="151" y="366.5" width="92" height="86.5" fill="#FCF0D4"/>
<rect x="148" y="407.5" width="44" height="4" fill="#F7E0BC" filter="url(#bl2)"/>
<rect x="209.5" y="366.5" width="7" height="63" fill="#F2E0CC"/>
<rect x="216.5" y="366.5" width="26.5" height="63.0" fill="#F8E6D6"/>
<line x1="220.0" y1="368.5" x2="231.0" y2="368.5" stroke="#D2BEB0" stroke-width="0.7"/>
<line x1="220.0" y1="370.6" x2="225.0" y2="370.6" stroke="#D2BEB0" stroke-width="0.7"/>
<line x1="220.0" y1="372.8" x2="225.0" y2="372.8" stroke="#D2BEB0" stroke-width="0.7"/>
<line x1="220.0" y1="374.9" x2="225.0" y2="374.9" stroke="#D2BEB0" stroke-width="0.7"/>
<line x1="220.0" y1="377.1" x2="225.0" y2="377.1" stroke="#D2BEB0" stroke-width="0.7"/>
<line x1="220.0" y1="379.2" x2="227.5" y2="379.2" stroke="#D2BEB0" stroke-width="0.7"/>
<line x1="220.0" y1="381.4" x2="225.0" y2="381.4" stroke="#D2BEB0" stroke-width="0.7"/>
<line x1="220.0" y1="383.5" x2="225.0" y2="383.5" stroke="#D2BEB0" stroke-width="0.7"/>
<line x1="220.0" y1="385.7" x2="225.0" y2="385.7" stroke="#D2BEB0" stroke-width="0.7"/>
<line x1="220.0" y1="387.8" x2="225.0" y2="387.8" stroke="#D2BEB0" stroke-width="0.7"/>
<line x1="220.0" y1="390.0" x2="231.0" y2="390.0" stroke="#D2BEB0" stroke-width="0.7"/>
<line x1="220.0" y1="392.1" x2="225.0" y2="392.1" stroke="#D2BEB0" stroke-width="0.7"/>
<line x1="220.0" y1="394.3" x2="225.0" y2="394.3" stroke="#D2BEB0" stroke-width="0.7"/>
<line x1="220.0" y1="396.4" x2="225.0" y2="396.4" stroke="#D2BEB0" stroke-width="0.7"/>
<line x1="220.0" y1="398.6" x2="225.0" y2="398.6" stroke="#D2BEB0" stroke-width="0.7"/>
<line x1="220.0" y1="400.7" x2="227.5" y2="400.7" stroke="#D2BEB0" stroke-width="0.7"/>
<line x1="220.0" y1="402.9" x2="225.0" y2="402.9" stroke="#D2BEB0" stroke-width="0.7"/>
<line x1="220.0" y1="405.0" x2="225.0" y2="405.0" stroke="#D2BEB0" stroke-width="0.7"/>
<line x1="220.0" y1="407.2" x2="225.0" y2="407.2" stroke="#D2BEB0" stroke-width="0.7"/>
<line x1="220.0" y1="409.3" x2="225.0" y2="409.3" stroke="#D2BEB0" stroke-width="0.7"/>
<line x1="220.0" y1="411.5" x2="231.0" y2="411.5" stroke="#D2BEB0" stroke-width="0.7"/>
<line x1="220.0" y1="413.6" x2="225.0" y2="413.6" stroke="#D2BEB0" stroke-width="0.7"/>
<line x1="220.0" y1="415.8" x2="225.0" y2="415.8" stroke="#D2BEB0" stroke-width="0.7"/>
<line x1="220.0" y1="417.9" x2="225.0" y2="417.9" stroke="#D2BEB0" stroke-width="0.7"/>
<line x1="220.0" y1="420.1" x2="225.0" y2="420.1" stroke="#D2BEB0" stroke-width="0.7"/>
<line x1="220.0" y1="422.2" x2="227.5" y2="422.2" stroke="#D2BEB0" stroke-width="0.7"/>
<line x1="220.0" y1="424.4" x2="225.0" y2="424.4" stroke="#D2BEB0" stroke-width="0.7"/>
<line x1="220.0" y1="426.5" x2="225.0" y2="426.5" stroke="#D2BEB0" stroke-width="0.7"/>
<text transform="translate(233.4,370.2) rotate(-90)" font-size="9" text-anchor="middle" fill="#6A5A4A" stroke="#6A5A4A" stroke-width="0.35">2</text>
<text transform="translate(233.4,392.3) rotate(-90)" font-size="9" text-anchor="middle" fill="#6A5A4A" stroke="#6A5A4A" stroke-width="0.35">1</text>
<text transform="translate(233.4,414.5) rotate(-90)" font-size="10" text-anchor="middle" fill="#6A5A4A" stroke="#6A5A4A" stroke-width="0.35">0</text>
<rect x="151" y="429.5" width="92" height="23.5" fill="#F7E0CE"/>
<rect x="151" y="429.5" width="92" height="9" fill="#F6E2D6"/>
<rect x="151" y="429.5" width="92" height="1.6" fill="#FBF1EA"/>
<rect x="154" y="439.5" width="36" height="10.5" fill="#FFFCF8" filter="url(#bl3)"/>
<rect x="151" y="450.8" width="92" height="2.2" fill="#F6DEC6"/>
<line x1="152.2" y1="430.5" x2="152.2" y2="434.0" stroke="#DDCABE" stroke-width="0.6"/>
<line x1="154.2" y1="430.5" x2="154.2" y2="439.0" stroke="#C4AC9C" stroke-width="0.8"/>
<line x1="156.2" y1="430.5" x2="156.2" y2="434.0" stroke="#DDCABE" stroke-width="0.6"/>
<line x1="158.2" y1="430.5" x2="158.2" y2="434.0" stroke="#DDCABE" stroke-width="0.6"/>
<line x1="160.2" y1="430.5" x2="160.2" y2="434.0" stroke="#DDCABE" stroke-width="0.6"/>
<line x1="162.2" y1="430.5" x2="162.2" y2="434.0" stroke="#DDCABE" stroke-width="0.6"/>
<line x1="164.2" y1="430.5" x2="164.2" y2="436.5" stroke="#CDB6A8" stroke-width="0.75"/>
<line x1="166.3" y1="430.5" x2="166.3" y2="434.0" stroke="#DDCABE" stroke-width="0.6"/>
<line x1="168.3" y1="430.5" x2="168.3" y2="434.0" stroke="#DDCABE" stroke-width="0.6"/>
<line x1="170.3" y1="430.5" x2="170.3" y2="434.0" stroke="#DDCABE" stroke-width="0.6"/>
<line x1="172.3" y1="430.5" x2="172.3" y2="434.0" stroke="#DDCABE" stroke-width="0.6"/>
<line x1="174.3" y1="430.5" x2="174.3" y2="439.0" stroke="#C4AC9C" stroke-width="0.8"/>
<line x1="176.3" y1="430.5" x2="176.3" y2="434.0" stroke="#DDCABE" stroke-width="0.6"/>
<line x1="178.3" y1="430.5" x2="178.3" y2="434.0" stroke="#DDCABE" stroke-width="0.6"/>
<line x1="180.3" y1="430.5" x2="180.3" y2="434.0" stroke="#DDCABE" stroke-width="0.6"/>
<line x1="182.3" y1="430.5" x2="182.3" y2="434.0" stroke="#DDCABE" stroke-width="0.6"/>
<line x1="184.3" y1="430.5" x2="184.3" y2="436.5" stroke="#CDB6A8" stroke-width="0.75"/>
<line x1="186.4" y1="430.5" x2="186.4" y2="434.0" stroke="#DDCABE" stroke-width="0.6"/>
<line x1="188.4" y1="430.5" x2="188.4" y2="434.0" stroke="#DDCABE" stroke-width="0.6"/>
<line x1="190.4" y1="430.5" x2="190.4" y2="434.0" stroke="#DDCABE" stroke-width="0.6"/>
<line x1="192.4" y1="430.5" x2="192.4" y2="434.0" stroke="#DDCABE" stroke-width="0.6"/>
<line x1="194.4" y1="430.5" x2="194.4" y2="439.0" stroke="#C4AC9C" stroke-width="0.8"/>
<line x1="196.4" y1="430.5" x2="196.4" y2="434.0" stroke="#DDCABE" stroke-width="0.6"/>
<line x1="198.4" y1="430.5" x2="198.4" y2="434.0" stroke="#DDCABE" stroke-width="0.6"/>
<line x1="200.4" y1="430.5" x2="200.4" y2="434.0" stroke="#DDCABE" stroke-width="0.6"/>
<line x1="202.4" y1="430.5" x2="202.4" y2="434.0" stroke="#DDCABE" stroke-width="0.6"/>
<line x1="204.4" y1="430.5" x2="204.4" y2="436.5" stroke="#CDB6A8" stroke-width="0.75"/>
<line x1="206.5" y1="430.5" x2="206.5" y2="434.0" stroke="#DDCABE" stroke-width="0.6"/>
<line x1="208.5" y1="430.5" x2="208.5" y2="434.0" stroke="#DDCABE" stroke-width="0.6"/>
<line x1="210.5" y1="430.5" x2="210.5" y2="434.0" stroke="#DDCABE" stroke-width="0.6"/>
<line x1="212.5" y1="430.5" x2="212.5" y2="434.0" stroke="#DDCABE" stroke-width="0.6"/>
<line x1="214.5" y1="430.5" x2="214.5" y2="439.0" stroke="#C4AC9C" stroke-width="0.8"/>
<line x1="216.5" y1="430.5" x2="216.5" y2="434.0" stroke="#DDCABE" stroke-width="0.6"/>
<line x1="218.5" y1="430.5" x2="218.5" y2="434.0" stroke="#DDCABE" stroke-width="0.6"/>
<line x1="220.5" y1="430.5" x2="220.5" y2="434.0" stroke="#DDCABE" stroke-width="0.6"/>
<line x1="222.5" y1="430.5" x2="222.5" y2="434.0" stroke="#DDCABE" stroke-width="0.6"/>
<line x1="224.5" y1="430.5" x2="224.5" y2="436.5" stroke="#CDB6A8" stroke-width="0.75"/>
<line x1="226.6" y1="430.5" x2="226.6" y2="434.0" stroke="#DDCABE" stroke-width="0.6"/>
<line x1="228.6" y1="430.5" x2="228.6" y2="434.0" stroke="#DDCABE" stroke-width="0.6"/>
<line x1="230.6" y1="430.5" x2="230.6" y2="434.0" stroke="#DDCABE" stroke-width="0.6"/>
<line x1="232.6" y1="430.5" x2="232.6" y2="434.0" stroke="#DDCABE" stroke-width="0.6"/>
<line x1="234.6" y1="430.5" x2="234.6" y2="439.0" stroke="#C4AC9C" stroke-width="0.8"/>
<line x1="236.6" y1="430.5" x2="236.6" y2="434.0" stroke="#DDCABE" stroke-width="0.6"/>
<line x1="238.6" y1="430.5" x2="238.6" y2="434.0" stroke="#DDCABE" stroke-width="0.6"/>
<line x1="240.6" y1="430.5" x2="240.6" y2="434.0" stroke="#DDCABE" stroke-width="0.6"/>
<line x1="242.6" y1="430.5" x2="242.6" y2="434.0" stroke="#DDCABE" stroke-width="0.6"/>
<text x="154.2" y="447.8" font-size="10" text-anchor="middle" fill="#A08C7E" stroke="#A08C7E" stroke-width="0.2">4</text>
<text x="174.2" y="447.8" font-size="10" text-anchor="middle" fill="#5E6680" stroke="#5E6680" stroke-width="0.2">5</text>
<text x="194.8" y="447.8" font-size="10" text-anchor="middle" fill="#A08C7E" stroke="#A08C7E" stroke-width="0.2">6</text>
<text x="214.5" y="447.8" font-size="10" text-anchor="middle" fill="#A08C7E" stroke="#A08C7E" stroke-width="0.2">7</text>
<text x="234.6" y="447.8" font-size="10" text-anchor="middle" fill="#A08C7E" stroke="#A08C7E" stroke-width="0.2">8</text>
<g filter="url(#bl)" stroke-linecap="round" stroke-linejoin="round" fill="none">
<path d="M167 384.5 C172.5 384.5 178 388 184 396 C189 403 192 410 194 416 C195 420 196 422.5 196.8 424.5" stroke="#F2D2A0" stroke-width="4.2"/>
<path d="M213.2 381 C209 389 205 398 201.5 407 C199.5 413 198 419 197.2 424" stroke="#F3D4A4" stroke-width="4"/>
<path d="M167 384.5 C172.5 384.5 178 388 184 396 C189 403 192 410 194 416 C195 420 196 422.5 196.8 424.5" stroke="#E2AA6C" stroke-width="1.8"/>
<path d="M213.2 381 C209 389 205 398 201.5 407 C199.5 413 198 419 197.2 424" stroke="#E4AE72" stroke-width="1.6"/>
<path d="M166.5 384.3 L172 385" stroke="#E8B478" stroke-width="3.6"/>
<path d="M195.5 408 C196 413 197 417 197.5 421" stroke="#E8A458" stroke-width="5.5"/>
<path d="M194.5 409 C195 413 196 416 196.5 419" stroke="#E08E44" stroke-width="2.2"/>
</g></g>
<text x="276.1" y="263.5" font-size="18.5" font-weight="bold" text-anchor="start" fill="#000" >C</text>
<line x1="348.7" y1="273.4" x2="348.7" y2="460.5" stroke="#000" stroke-width="1.8" stroke-linecap="butt"/>
<line x1="344" y1="459.5" x2="348.7" y2="459.5" stroke="#000" stroke-width="1.6" stroke-linecap="butt"/>
<text x="333.2" y="465.3" font-size="16.5" font-weight="normal" text-anchor="end" fill="#111" >0</text>
<line x1="344" y1="433.02" x2="348.7" y2="433.02" stroke="#000" stroke-width="1.6" stroke-linecap="butt"/>
<text x="333.2" y="438.82" font-size="16.5" font-weight="normal" text-anchor="end" fill="#111" >2</text>
<line x1="344" y1="406.54" x2="348.7" y2="406.54" stroke="#000" stroke-width="1.6" stroke-linecap="butt"/>
<text x="333.2" y="412.34000000000003" font-size="16.5" font-weight="normal" text-anchor="end" fill="#111" >4</text>
<line x1="344" y1="380.06" x2="348.7" y2="380.06" stroke="#000" stroke-width="1.6" stroke-linecap="butt"/>
<text x="333.2" y="385.86" font-size="16.5" font-weight="normal" text-anchor="end" fill="#111" >6</text>
<line x1="344" y1="353.58" x2="348.7" y2="353.58" stroke="#000" stroke-width="1.6" stroke-linecap="butt"/>
<text x="333.2" y="359.38" font-size="16.5" font-weight="normal" text-anchor="end" fill="#111" >8</text>
<line x1="344" y1="327.1" x2="348.7" y2="327.1" stroke="#000" stroke-width="1.6" stroke-linecap="butt"/>
<text x="333.2" y="332.90000000000003" font-size="16.5" font-weight="normal" text-anchor="end" fill="#111" >10</text>
<line x1="344" y1="300.62" x2="348.7" y2="300.62" stroke="#000" stroke-width="1.6" stroke-linecap="butt"/>
<text x="333.2" y="306.42" font-size="16.5" font-weight="normal" text-anchor="end" fill="#111" >12</text>
<line x1="344" y1="274.14" x2="348.7" y2="274.14" stroke="#000" stroke-width="1.6" stroke-linecap="butt"/>
<text x="333.2" y="279.94" font-size="16.5" font-weight="normal" text-anchor="end" fill="#111" >14</text>
<line x1="344" y1="459.5" x2="411.8" y2="459.5" stroke="#000" stroke-width="2" stroke-linecap="butt"/>
<rect x="362.6" y="314.4" width="17.5" height="145.10000000000002" fill="#000"/>
<rect x="380.1" y="368.2" width="18.1" height="91.30000000000001" fill="#999"/>
<line x1="371.4" y1="288.1" x2="371.4" y2="314.4" stroke="#000" stroke-width="2" stroke-linecap="butt"/>
<line x1="366.8" y1="288.1" x2="376" y2="288.1" stroke="#000" stroke-width="2" stroke-linecap="butt"/>
<line x1="389.2" y1="355.7" x2="389.2" y2="380.1" stroke="#000" stroke-width="2" stroke-linecap="butt"/>
<line x1="384.4" y1="355.7" x2="393.8" y2="355.7" stroke="#000" stroke-width="2" stroke-linecap="butt"/>
<line x1="384.4" y1="380.1" x2="393.8" y2="380.1" stroke="#000" stroke-width="2" stroke-linecap="butt"/>
<text x="390.9" y="331.2" font-size="15" font-weight="bold" text-anchor="middle" fill="#111" >*</text>
<text x="397.8" y="331.2" font-size="15" font-weight="bold" text-anchor="middle" fill="#111" >*</text>
<text x="404.6" y="331.2" font-size="15" font-weight="bold" text-anchor="middle" fill="#111" >*</text>
<rect x="420.6" y="291.3" width="8.5" height="8.5" fill="#000"/>
<rect x="420.6" y="312.3" width="8.5" height="8.5" fill="#999"/>
<text transform="translate(433,300.5) scale(1.05,1)" font-size="16.5" font-weight="normal" text-anchor="start" fill="#000" >Cont</text>
<text x="433" y="321.6" font-size="16.5" font-weight="normal" text-anchor="start" fill="#000" >JQ1</text>
<text transform="translate(284.7,451.5) rotate(-90)" x="0" y="0" font-size="17.6">Uterine wet wt. (mg)/</text>
<text transform="translate(304.9,417.5) rotate(-90)" x="0" y="0" font-size="17.6">Body wt. (g)</text>
<text x="2.6" y="488.7" font-size="18.5" font-weight="bold" text-anchor="start" fill="#000" >D</text>
<text transform="translate(122.3,493.2) scale(1.06,1)" font-size="16.5" font-weight="bold" text-anchor="middle" fill="#000" >Ran</text>
<line x1="93.5" y1="516.8000000000001" x2="93.5" y2="640.4" stroke="#000" stroke-width="1.8" stroke-linecap="butt"/>
<line x1="88.7" y1="639.6" x2="93.5" y2="639.6" stroke="#000" stroke-width="1.6" stroke-linecap="butt"/>
<text transform="translate(77.3,645.2) scale(1.03,1)" font-size="16.3" font-weight="normal" text-anchor="end" fill="#111" >0.0</text>
<line x1="88.7" y1="609.1" x2="93.5" y2="609.1" stroke="#000" stroke-width="1.6" stroke-linecap="butt"/>
<text transform="translate(77.3,614.7) scale(1.03,1)" font-size="16.3" font-weight="normal" text-anchor="end" fill="#111" >0.5</text>
<line x1="88.7" y1="578.6" x2="93.5" y2="578.6" stroke="#000" stroke-width="1.6" stroke-linecap="butt"/>
<text transform="translate(77.3,584.2) scale(1.03,1)" font-size="16.3" font-weight="normal" text-anchor="end" fill="#111" >1.0</text>
<line x1="88.7" y1="548.1" x2="93.5" y2="548.1" stroke="#000" stroke-width="1.6" stroke-linecap="butt"/>
<text transform="translate(77.3,553.7) scale(1.03,1)" font-size="16.3" font-weight="normal" text-anchor="end" fill="#111" >1.5</text>
<line x1="88.7" y1="517.6" x2="93.5" y2="517.6" stroke="#000" stroke-width="1.6" stroke-linecap="butt"/>
<text transform="translate(77.3,523.2) scale(1.03,1)" font-size="16.3" font-weight="normal" text-anchor="end" fill="#111" >2.0</text>
<line x1="88.7" y1="639.6" x2="161" y2="639.6" stroke="#000" stroke-width="2" stroke-linecap="butt"/>
<text transform="translate(41.6,649.4) rotate(-90)" x="0" y="0" font-size="17.6">Rel. mRNA exp.</text>
<line x1="110.7" y1="539.682" x2="110.7" y2="547.4290000000001" stroke="#000" stroke-width="1.8" stroke-linecap="butt"/>
<line x1="110.7" y1="579.881" x2="110.7" y2="581.528" stroke="#000" stroke-width="1.8" stroke-linecap="butt"/>
<line x1="105.9" y1="539.682" x2="115.5" y2="539.682" stroke="#000" stroke-width="1.8" stroke-linecap="butt"/>
<line x1="105.9" y1="581.528" x2="115.5" y2="581.528" stroke="#000" stroke-width="1.8" stroke-linecap="butt"/>
<rect x="99.85000000000001" y="547.4290000000001" width="21.7" height="32.451999999999884" fill="#BEBEBE" stroke="#111" stroke-width="1.9"/>
<line x1="99.85000000000001" y1="564.8140000000001" x2="121.55" y2="564.8140000000001" stroke="#000" stroke-width="1.9" stroke-linecap="butt"/>
<line x1="144.55" y1="576.587" x2="144.55" y2="595.07" stroke="#000" stroke-width="1.8" stroke-linecap="butt"/>
<line x1="144.55" y1="607.575" x2="144.55" y2="615.871" stroke="#000" stroke-width="1.8" stroke-linecap="butt"/>
<line x1="139.65" y1="576.587" x2="149.45000000000002" y2="576.587" stroke="#000" stroke-width="1.8" stroke-linecap="butt"/>
<line x1="139.65" y1="615.871" x2="149.45000000000002" y2="615.871" stroke="#000" stroke-width="1.8" stroke-linecap="butt"/>
<rect x="133.95000000000002" y="595.07" width="21.2" height="12.504999999999995" fill="#BEBEBE" stroke="#111" stroke-width="1.9"/>
<line x1="133.95000000000002" y1="603.427" x2="155.15" y2="603.427" stroke="#000" stroke-width="1.9" stroke-linecap="butt"/>
<text transform="translate(114.7,660.4) scale(1,1) rotate(-45)" x="0" y="0" font-size="17.8" text-anchor="end">Cont</text>
<text transform="translate(147.2,659.6) scale(0.96,1.09) rotate(-45)" x="0" y="0" font-size="16.5" text-anchor="end">JQ1</text>
<text transform="translate(282.8,495.7) scale(1.01,1)" font-size="16.5" font-weight="bold" text-anchor="middle" fill="#000" >Mad2l1</text>
<line x1="242.3" y1="516.7" x2="242.3" y2="639.8" stroke="#000" stroke-width="1.8" stroke-linecap="butt"/>
<line x1="237.5" y1="639.0" x2="242.3" y2="639.0" stroke="#000" stroke-width="1.6" stroke-linecap="butt"/>
<text transform="translate(226.10000000000002,644.6) scale(1.03,1)" font-size="16.3" font-weight="normal" text-anchor="end" fill="#111" >0.0</text>
<line x1="237.5" y1="614.7" x2="242.3" y2="614.7" stroke="#000" stroke-width="1.6" stroke-linecap="butt"/>
<text transform="translate(226.10000000000002,620.3000000000001) scale(1.03,1)" font-size="16.3" font-weight="normal" text-anchor="end" fill="#111" >0.5</text>
<line x1="237.5" y1="590.4" x2="242.3" y2="590.4" stroke="#000" stroke-width="1.6" stroke-linecap="butt"/>
<text transform="translate(226.10000000000002,596.0) scale(1.03,1)" font-size="16.3" font-weight="normal" text-anchor="end" fill="#111" >1.0</text>
<line x1="237.5" y1="566.1" x2="242.3" y2="566.1" stroke="#000" stroke-width="1.6" stroke-linecap="butt"/>
<text transform="translate(226.10000000000002,571.7) scale(1.03,1)" font-size="16.3" font-weight="normal" text-anchor="end" fill="#111" >1.5</text>
<line x1="237.5" y1="541.8" x2="242.3" y2="541.8" stroke="#000" stroke-width="1.6" stroke-linecap="butt"/>
<text transform="translate(226.10000000000002,547.4) scale(1.03,1)" font-size="16.3" font-weight="normal" text-anchor="end" fill="#111" >2.0</text>
<line x1="237.5" y1="517.5" x2="242.3" y2="517.5" stroke="#000" stroke-width="1.6" stroke-linecap="butt"/>
<text transform="translate(226.10000000000002,523.1) scale(1.03,1)" font-size="16.3" font-weight="normal" text-anchor="end" fill="#111" >2.5</text>
<line x1="237.5" y1="639.0" x2="313" y2="639.0" stroke="#000" stroke-width="2" stroke-linecap="butt"/>
<text transform="translate(191.2,646.2) rotate(-90)" x="0" y="0" font-size="17.6">Rel. mRNA exp.</text>
<line x1="260.15" y1="536.697" x2="260.15" y2="547.2432" stroke="#000" stroke-width="1.8" stroke-linecap="butt"/>
<line x1="260.15" y1="554.6304" x2="260.15" y2="559.296" stroke="#000" stroke-width="1.8" stroke-linecap="butt"/>
<line x1="255.29999999999998" y1="536.697" x2="265.0" y2="536.697" stroke="#000" stroke-width="1.8" stroke-linecap="butt"/>
<line x1="255.29999999999998" y1="559.296" x2="265.0" y2="559.296" stroke="#000" stroke-width="1.8" stroke-linecap="butt"/>
<rect x="248.95" y="547.2432" width="22.4" height="7.387200000000007" fill="#BEBEBE" stroke="#111" stroke-width="1.9"/>
<line x1="248.95" y1="552.2976" x2="271.34999999999997" y2="552.2976" stroke="#000" stroke-width="1.9" stroke-linecap="butt"/>
<line x1="295.55" y1="576.5004" x2="295.55" y2="590.157" stroke="#000" stroke-width="1.8" stroke-linecap="butt"/>
<line x1="295.55" y1="602.8902" x2="295.55" y2="603.279" stroke="#000" stroke-width="1.8" stroke-linecap="butt"/>
<line x1="290.75" y1="576.5004" x2="300.35" y2="576.5004" stroke="#000" stroke-width="1.8" stroke-linecap="butt"/>
<line x1="290.75" y1="603.279" x2="300.35" y2="603.279" stroke="#000" stroke-width="1.8" stroke-linecap="butt"/>
<rect x="284.25" y="590.157" width="22.6" height="12.73320000000001" fill="#BEBEBE" stroke="#111" stroke-width="1.9"/>
<line x1="284.25" y1="602.2098" x2="306.85" y2="602.2098" stroke="#000" stroke-width="1.9" stroke-linecap="butt"/>
<text transform="translate(265.1,660.4) scale(1,1) rotate(-45)" x="0" y="0" font-size="17.8" text-anchor="end">Cont</text>
<text transform="translate(298.1,659.7) scale(0.96,1.09) rotate(-45)" x="0" y="0" font-size="16.5" text-anchor="end">JQ1</text>
<text transform="translate(414.1,497) scale(1.03,1)" font-size="16.5" font-weight="bold" text-anchor="middle" fill="#000" >Il1b</text>
<line x1="385.2" y1="516.3" x2="385.2" y2="639.0999999999999" stroke="#000" stroke-width="1.8" stroke-linecap="butt"/>
<line x1="380.4" y1="638.3" x2="385.2" y2="638.3" stroke="#000" stroke-width="1.6" stroke-linecap="butt"/>
<text transform="translate(369.0,643.9) scale(1.03,1)" font-size="16.3" font-weight="normal" text-anchor="end" fill="#111" >0.0</text>
<line x1="380.4" y1="618.0999999999999" x2="385.2" y2="618.0999999999999" stroke="#000" stroke-width="1.6" stroke-linecap="butt"/>
<text transform="translate(369.0,623.6999999999999) scale(1.03,1)" font-size="16.3" font-weight="normal" text-anchor="end" fill="#111" >0.5</text>
<line x1="380.4" y1="597.9" x2="385.2" y2="597.9" stroke="#000" stroke-width="1.6" stroke-linecap="butt"/>
<text transform="translate(369.0,603.5) scale(1.03,1)" font-size="16.3" font-weight="normal" text-anchor="end" fill="#111" >1.0</text>
<line x1="380.4" y1="577.6999999999999" x2="385.2" y2="577.6999999999999" stroke="#000" stroke-width="1.6" stroke-linecap="butt"/>
<text transform="translate(369.0,583.3) scale(1.03,1)" font-size="16.3" font-weight="normal" text-anchor="end" fill="#111" >1.5</text>
<line x1="380.4" y1="557.5" x2="385.2" y2="557.5" stroke="#000" stroke-width="1.6" stroke-linecap="butt"/>
<text transform="translate(369.0,563.1) scale(1.03,1)" font-size="16.3" font-weight="normal" text-anchor="end" fill="#111" >2.0</text>
<line x1="380.4" y1="537.3" x2="385.2" y2="537.3" stroke="#000" stroke-width="1.6" stroke-linecap="butt"/>
<text transform="translate(369.0,542.9) scale(1.03,1)" font-size="16.3" font-weight="normal" text-anchor="end" fill="#111" >2.5</text>
<line x1="380.4" y1="517.0999999999999" x2="385.2" y2="517.0999999999999" stroke="#000" stroke-width="1.6" stroke-linecap="butt"/>
<text transform="translate(369.0,522.6999999999999) scale(1.03,1)" font-size="16.3" font-weight="normal" text-anchor="end" fill="#111" >3.0</text>
<line x1="380.4" y1="638.3" x2="448" y2="638.3" stroke="#000" stroke-width="2" stroke-linecap="butt"/>
<text transform="translate(337.6,643.4) rotate(-90)" x="0" y="0" font-size="17.6">Rel. mRNA exp.</text>
<line x1="401.15" y1="523.968" x2="401.15" y2="558.106" stroke="#000" stroke-width="1.8" stroke-linecap="butt"/>
<line x1="401.15" y1="589.012" x2="401.15" y2="626.584" stroke="#000" stroke-width="1.8" stroke-linecap="butt"/>
<line x1="396.5" y1="523.968" x2="405.79999999999995" y2="523.968" stroke="#000" stroke-width="1.8" stroke-linecap="butt"/>
<line x1="396.5" y1="626.584" x2="405.79999999999995" y2="626.584" stroke="#000" stroke-width="1.8" stroke-linecap="butt"/>
<rect x="390.95" y="558.106" width="20.4" height="30.90599999999995" fill="#BEBEBE" stroke="#111" stroke-width="1.9"/>
<line x1="390.95" y1="572.852" x2="411.34999999999997" y2="572.852" stroke="#000" stroke-width="1.9" stroke-linecap="butt"/>
<line x1="432.05" y1="610.02" x2="432.05" y2="623.1096" stroke="#000" stroke-width="1.8" stroke-linecap="butt"/>
<line x1="432.05" y1="628.3616" x2="432.05" y2="630.7048" stroke="#000" stroke-width="1.8" stroke-linecap="butt"/>
<line x1="427.35" y1="610.02" x2="436.75" y2="610.02" stroke="#000" stroke-width="1.8" stroke-linecap="butt"/>
<line x1="427.35" y1="630.7048" x2="436.75" y2="630.7048" stroke="#000" stroke-width="1.8" stroke-linecap="butt"/>
<rect x="422.15000000000003" y="623.1096" width="19.8" height="5.251999999999953" fill="#BEBEBE" stroke="#111" stroke-width="1.9"/>
<line x1="422.15000000000003" y1="627.5132" x2="441.95" y2="627.5132" stroke="#000" stroke-width="1.9" stroke-linecap="butt"/>
<text transform="translate(404.6,660.4) scale(1,1) rotate(-45)" x="0" y="0" font-size="17.8" text-anchor="end">Cont</text>
<text transform="translate(434.9,660.0) scale(0.96,1.09) rotate(-45)" x="0" y="0" font-size="16.5" text-anchor="end">JQ1</text>
<text x="421.5" y="581.3" font-size="10.7" font-weight="normal" text-anchor="start" fill="#222" >p-value=0.06</text>
<text x="136.9" y="542.6" font-size="22" font-weight="bold" text-anchor="middle" fill="#111" >*</text>
<text x="283.2" y="561.4" font-size="22" font-weight="bold" text-anchor="middle" fill="#111" >*</text>
<text x="293.5" y="561.4" font-size="22" font-weight="bold" text-anchor="middle" fill="#111" >*</text>
</svg>
</body></html>
